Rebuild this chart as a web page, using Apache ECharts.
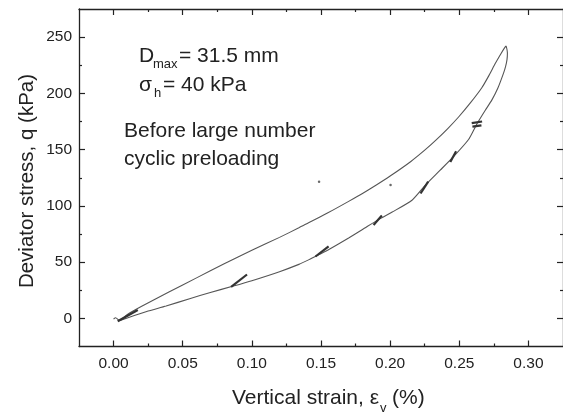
<!DOCTYPE html>
<html>
<head>
<meta charset="utf-8">
<script src="https://cdn.jsdelivr.net/npm/echarts@6/dist/echarts.min.js"></script>
<style>
html,body{margin:0;padding:0;background:#fff;}
#c{width:563px;height:412px;}
</style>
</head>
<body>
<div id="c"></div>
<script>
// ---- data ----
const xMajorTicks = [0, 0.05, 0.10, 0.15, 0.20, 0.25, 0.30];
const xMinorTicks = [0.025, 0.075, 0.125, 0.175, 0.225, 0.275];
const yMajorTicks = [0, 50, 100, 150, 200, 250];
const yMinorTicks = [25, 75, 125, 175, 225];

// hysteresis loop: upper branch to the peak, then lower branch back
const loopStrain = [0.000, 0.0015, 0.0043, 0.010, 0.020, 0.040, 0.060, 0.080, 0.100, 0.120, 0.134, 0.141, 0.156, 0.170, 0.180, 0.190, 0.200, 0.215, 0.225, 0.2327, 0.2415, 0.2495, 0.258, 0.2663, 0.2715, 0.276, 0.280, 0.2825, 0.2838,
                    0.2848, 0.2845, 0.2835, 0.282, 0.278, 0.2735, 0.2688, 0.2628, 0.2567, 0.246, 0.236, 0.2255, 0.2158, 0.2015, 0.1918, 0.180, 0.170, 0.156, 0.149, 0.141, 0.134, 0.120, 0.100, 0.086, 0.070, 0.055, 0.038, 0.025, 0.015, 0.0043];
const loopStress = [-0.5, 0.6, -2, 3.5, 10.5, 23.5, 36, 48.5, 60.5, 72, 80.5, 85, 94.5, 104, 111, 118.5, 126.5, 139.5, 149.5, 158, 168.5, 179, 191.5, 205, 216, 226.5, 235, 240, 242,
                    236, 230, 224, 218, 205, 194, 185, 173, 159, 144, 131.5, 118.5, 105, 94.5, 88, 79, 71.5, 61.5, 57, 52, 48, 41.5, 33.5, 28.5, 23, 17.5, 11, 6.5, 2.5, -2];

// short arrow strokes on the lower branch: [start, end]
const arrowStrain = [[0.003, 0.0175], [0.085, 0.0965], [0.146, 0.1555], [0.188, 0.194], [0.222, 0.2275], [0.2435, 0.2477], [0.259, 0.2665], [0.2595, 0.266]];
const arrowStress = [[-2.5, 7.5], [28, 39], [55, 64], [83, 91.5], [111, 121.5], [139, 148.5], [173.5, 175], [170.5, 171.5]];

// stray specks in the scan
const speckStrain = [0.1486, 0.2003];
const speckStress = [121.5, 118.6];

const FONT = '"Liberation Sans", Arial, sans-serif';
const INK = '#222';

const chart = echarts.init(document.getElementById('c'), null, {renderer: 'canvas'});

function xAx(pos, ticks, len, withLine, withLabel) {
  return {
    type: 'value', position: pos, min: -0.025, max: 0.325,
    axisLine: {show: withLine, onZero: false, lineStyle: {color: INK, width: 1.3}},
    axisTick: {show: true, inside: true, length: len, customValues: ticks, lineStyle: {color: INK, width: 1.2}},
    axisLabel: withLabel ? {show: true, customValues: ticks, formatter: v => Number(v).toFixed(2), fontSize: 15.5, fontFamily: FONT, color: INK, margin: 9} : {show: false},
    splitLine: {show: false}
  };
}
function yAx(pos, ticks, len, withLine, withLabel) {
  return {
    type: 'value', position: pos, min: -25, max: 275,
    axisLine: {show: withLine, onZero: false, lineStyle: {color: INK, width: 1.3}},
    axisTick: {show: true, inside: true, length: len, customValues: ticks, lineStyle: {color: INK, width: 1.2}},
    axisLabel: withLabel ? {show: true, customValues: ticks, formatter: v => String(v), fontSize: 15.5, fontFamily: FONT, color: INK, margin: 7} : {show: false},
    splitLine: {show: false}
  };
}

const series = [{
  type: 'line',
  data: loopStrain.map((x, i) => [x, loopStress[i]]),
  showSymbol: false,
  smooth: 0.2,
  lineStyle: {color: '#555', width: 1.1},
  xAxisIndex: 0, yAxisIndex: 0, z: 3
}];
arrowStrain.forEach((xs, i) => {
  series.push({
    type: 'line',
    data: [[xs[0], arrowStress[i][0]], [xs[1], arrowStress[i][1]]],
    showSymbol: false,
    lineStyle: {color: '#333', width: 2.2},
    xAxisIndex: 0, yAxisIndex: 0, z: 4
  });
});
series.push({
  type: 'scatter',
  data: speckStrain.map((x, i) => [x, speckStress[i]]),
  symbolSize: 2.5,
  itemStyle: {color: '#444'},
  xAxisIndex: 0, yAxisIndex: 0
});

function txt(text, x, y, size, extra) {
  return Object.assign({
    type: 'text', x: x, y: y, silent: true,
    style: {text: text, font: size + 'px ' + FONT, fill: INK, textAlign: 'left', textVerticalAlign: 'middle'}
  }, extra || {});
}

chart.setOption({
  animation: false,
  backgroundColor: '#fff',
  grid: {left: 79, top: 9, width: 486, height: 337.5, containLabel: false},
  xAxis: [
    xAx('bottom', xMajorTicks, 6, true, true),
    xAx('bottom', xMinorTicks, 3, false, false),
    xAx('top', xMajorTicks, 6, true, false),
    xAx('top', xMinorTicks, 3, false, false)
  ],
  yAxis: [
    yAx('left', yMajorTicks, 6, true, true),
    yAx('left', yMinorTicks, 3, false, false),
    yAx('right', yMajorTicks, 6, true, false),
    yAx('right', yMinorTicks, 3, false, false)
  ],
  series: series,
  graphic: [
    txt('D', 139, 56, 21),
    txt('max', 153, 64.8, 13),
    txt('= 31.5 mm', 179, 56, 21),
    txt('σ', 139, 85.4, 21),
    txt('h', 154, 93.5, 13),
    txt('= 40 kPa', 163, 85.4, 21),
    txt('Before large number', 124, 131, 21),
    txt('cyclic preloading', 124, 159.4, 21),
    txt('Vertical strain, ε', 232, 398.7, 21),
    txt('v', 380, 408.5, 13),
    txt('(%)', 392, 398.7, 21),
    {
      type: 'text', x: 27, y: 181, rotation: Math.PI / 2, silent: true,
      style: {text: 'Deviator stress, q (kPa)', font: '20.5px ' + FONT, fill: INK, textAlign: 'center', textVerticalAlign: 'middle'}
    }
  ]
});
</script>
</body>
</html>
